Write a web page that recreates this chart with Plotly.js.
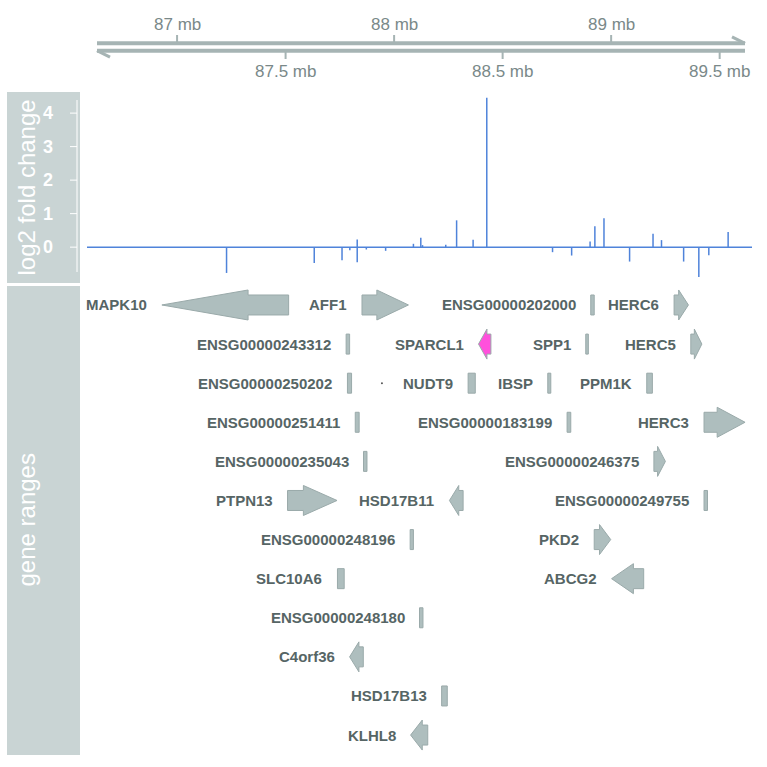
<!DOCTYPE html>
<html><head><meta charset="utf-8">
<script src="https://cdn.plot.ly/plotly-3.0.1.min.js"></script>
<style>html,body{margin:0;padding:0;background:#fff}#chart{width:767px;height:767px}</style>
</head><body><div id="chart"></div>
<script>
// ---- data track: log2 fold change per gene position (mb) ----
const fcPos = [87.228, 87.632, 87.760, 87.796, 87.830, 87.830, 87.872, 87.961, 88.089, 88.123, 88.131, 88.238, 88.288, 88.364, 88.427, 88.730, 88.818, 88.903, 88.925, 88.967, 89.085, 89.193, 89.232, 89.334, 89.404, 89.450, 89.539];
const fcVal = [-0.77, -0.47, -0.39, -0.09, 0.23, -0.45, -0.07, -0.11, 0.10, 0.28, 0.06, 0.07, 0.80, 0.22, 4.46, -0.15, -0.25, 0.17, 0.62, 0.86, -0.43, 0.40, 0.21, -0.43, -0.89, -0.24, 0.45];
const fcTicks = [0, 1, 2, 3, 4];

// ---- gene ranges track ----
const geneNames = ["MAPK10","AFF1","ENSG00000202000","HERC6","ENSG00000243312","SPARCL1","SPP1","HERC5","ENSG00000250202","NUDT9","IBSP","PPM1K","ENSG00000251411","ENSG00000183199","HERC3","ENSG00000235043","ENSG00000246375","PTPN13","HSD17B11","ENSG00000249755","ENSG00000248196","PKD2","SLC10A6","ABCG2","ENSG00000248180","C4orf36","HSD17B13","KLHL8"];
const geneStart = [86.930, 87.852, 88.906, 89.290, 87.779, 88.389, 88.883, 89.367, 87.785, 88.341, 88.708, 89.164, 87.821, 88.797, 89.428, 87.859, 89.197, 87.509, 88.255, 89.428, 88.074, 88.922, 87.739, 89.002, 88.117, 87.795, 88.219, 88.076];
const geneEnd   = [87.514, 88.066, 88.922, 89.356, 87.795, 88.446, 88.895, 89.418, 87.804, 88.374, 88.722, 89.190, 87.839, 88.814, 89.617, 87.875, 89.250, 87.737, 88.318, 89.444, 88.089, 88.998, 87.770, 89.150, 88.133, 87.858, 88.245, 88.155];
const geneStrand = ["-","+","*","+","*","-","*","+","*","*","*","*","*","*","+","*","+","+","-","*","*","+","*","-","*","-","*","-"];
const geneRow = [1,1,1,1,2,2,2,2,3,3,3,3,4,4,4,5,5,6,6,6,7,7,8,8,9,10,11,12];
const highlightGene = "SPARCL1";
const tinyFeature = {pos: [87.944], row: [3]};

// ---- genome axis ----
const majorTicks = [87, 88, 89];
const majorLabels = ["87 mb", "88 mb", "89 mb"];
const minorTicks = [87.5, 88.5, 89.5];
const minorLabels = ["87.5 mb", "88.5 mb", "89.5 mb"];

// ---- layout helpers (pixel -> paper) ----
const W = 767, H = 767, R = 15, PW = W - R;
const X = px => px / PW;
const Y = py => 1 - py / H;

const panelCol = "#C9D4D4";
const geneFill = "#AEBEBE";
const geneLine = "#9AAAAA";
const labelCol = "#566565";
const axisCol = "#A6B4B4";
const axisText = "#7A8989";
const dataCol = "#4F83DA";
const FONT = "Liberation Sans, Arial, sans-serif";

// bars
const bx = [], by = [];
fcPos.forEach((p, i) => { bx.push(p, p, null); by.push(0, fcVal[i], null); });

const traces = [
  {type: "scatter", mode: "lines", x: bx, y: by, xaxis: "x", yaxis: "y",
   line: {color: dataCol, width: 1.5}, hoverinfo: "skip", showlegend: false},
  {type: "scatter", mode: "markers", x: tinyFeature.pos, y: tinyFeature.row, xaxis: "x", yaxis: "y2",
   marker: {color: "#555", size: 2}, hoverinfo: "skip", showlegend: false}
];

const shapes = [];
const annotations = [];

// title panels
shapes.push({type: "rect", xref: "paper", yref: "paper", x0: X(7), x1: X(80), y0: Y(283), y1: Y(92), fillcolor: panelCol, line: {width: 0}, layer: "below"});
shapes.push({type: "rect", xref: "paper", yref: "paper", x0: X(7), x1: X(80), y0: Y(755), y1: Y(286), fillcolor: panelCol, line: {width: 0}, layer: "below"});
annotations.push({xref: "paper", yref: "paper", x: X(26), y: Y(187.5), text: "log2 fold change", textangle: -90, showarrow: false,
  font: {family: FONT, size: 24, color: "#fff"}, xanchor: "center", yanchor: "middle"});
annotations.push({xref: "paper", yref: "paper", x: X(26), y: Y(520.5), text: "gene ranges", textangle: -90, showarrow: false,
  font: {family: FONT, size: 24, color: "#fff"}, xanchor: "center", yanchor: "middle"});

// data axis line (white), tick labels and baseline
shapes.push({type: "line", xref: "paper", yref: "paper", x0: X(77), x1: X(77), y0: Y(272), y1: Y(100), line: {color: "#fff", width: 1}});
fcTicks.forEach(t => {
  shapes.push({type: "line", xref: "paper", yref: "y", x0: X(70), x1: X(77), y0: t, y1: t, line: {color: "#fff", width: 1}});
  annotations.push({xref: "paper", yref: "y", x: X(55), y: t, text: String(t), showarrow: false, xanchor: "right", yanchor: "middle",
    font: {family: FONT, size: 18, color: "#fff", weight: "bold"}});
});
shapes.push({type: "line", xref: "paper", yref: "y", x0: X(87), x1: 1, y0: 0, y1: 0, line: {color: dataCol, width: 1.5}});

// genome axis
const upY = 43.3, loY = 50.7;
shapes.push({type: "line", xref: "paper", yref: "y3", x0: X(97), x1: X(745), y0: upY, y1: upY, line: {color: axisCol, width: 4}});
shapes.push({type: "line", xref: "paper", yref: "y3", x0: X(745), x1: X(732), y0: upY, y1: upY - 6.5, line: {color: axisCol, width: 3}});
shapes.push({type: "line", xref: "paper", yref: "y3", x0: X(97), x1: X(745), y0: loY, y1: loY, line: {color: axisCol, width: 4}});
shapes.push({type: "line", xref: "paper", yref: "y3", x0: X(97), x1: X(110), y0: loY, y1: loY + 6.5, line: {color: axisCol, width: 3}});
majorTicks.forEach((t, i) => {
  shapes.push({type: "line", xref: "x", yref: "y3", x0: t, x1: t, y0: 35, y1: upY, line: {color: axisCol, width: 2}});
  annotations.push({xref: "x", yref: "y3", x: t, y: 24.5, text: majorLabels[i], showarrow: false,
    font: {family: FONT, size: 17, color: axisText}, xanchor: "center", yanchor: "middle"});
});
minorTicks.forEach((t, i) => {
  shapes.push({type: "line", xref: "x", yref: "y3", x0: t, x1: t, y0: loY, y1: 59, line: {color: axisCol, width: 2}});
  annotations.push({xref: "x", yref: "y3", x: t, y: 71.5, text: minorLabels[i], showarrow: false,
    font: {family: FONT, size: 17, color: axisText}, xanchor: "center", yanchor: "middle"});
});

// genes
const rowPx = 39.1;
const bodyH = 10 / rowPx, headH = 15 / rowPx;
const bodyFrac = 0.32;
geneNames.forEach((g, i) => {
  const s = geneStart[i], e = geneEnd[i], r = geneRow[i], st = geneStrand[i];
  let path;
  if (st === "+") {
    const hb = s + (e - s) * bodyFrac;
    path = `M${s},${r - bodyH} L${hb},${r - bodyH} L${hb},${r - headH} L${e},${r} L${hb},${r + headH} L${hb},${r + bodyH} L${s},${r + bodyH} Z`;
  } else if (st === "-") {
    const hb = e - (e - s) * bodyFrac;
    path = `M${e},${r - bodyH} L${hb},${r - bodyH} L${hb},${r - headH} L${s},${r} L${hb},${r + headH} L${hb},${r + bodyH} L${e},${r + bodyH} Z`;
  } else {
    path = `M${s},${r - bodyH} L${e},${r - bodyH} L${e},${r + bodyH} L${s},${r + bodyH} Z`;
  }
  const fill = g === highlightGene ? "#FF50DC" : geneFill;
  shapes.push({type: "path", xref: "x", yref: "y2", path: path, fillcolor: fill, line: {color: geneLine, width: 1}});
  annotations.push({xref: "x", yref: "y2", x: s, y: r, text: g, showarrow: false, xanchor: "right", yanchor: "middle",
    xshift: -13, font: {family: FONT, size: 15, color: labelCol, weight: "bold"}});
});

const layout = {
  width: W, height: H,
  margin: {l: 0, r: R, t: 0, b: 0},
  paper_bgcolor: "#fff", plot_bgcolor: "rgba(0,0,0,0)",
  showlegend: false,
  xaxis: {domain: [X(87), 1], range: [86.585, 89.649], visible: false, anchor: "y2"},
  yaxis: {domain: [Y(282), Y(92)], range: [-1.04, 4.63], visible: false, anchor: "x"},
  yaxis2: {domain: [Y(755), Y(287)], range: [12.51, 0.54], visible: false, anchor: "x"},
  yaxis3: {domain: [Y(90), 1], range: [90, 0], visible: false, anchor: "x"},
  shapes: shapes,
  annotations: annotations
};

Plotly.newPlot("chart", traces, layout, {staticPlot: true, displayModeBar: false});
</script>
</body></html>
